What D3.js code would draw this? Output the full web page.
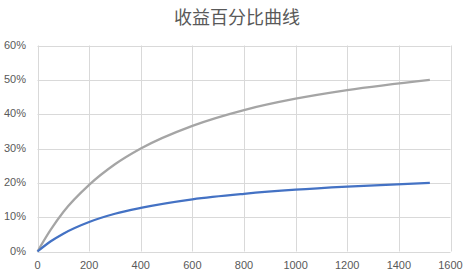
<!DOCTYPE html>
<html>
<head>
<meta charset="utf-8">
<script src="https://cdn.jsdelivr.net/npm/d3@7"></script>
<style>
  body { margin: 0; background: #fff; }
  svg { display: block; }
</style>
</head>
<body>
<svg width="471" height="277"></svg>
<script>
var svg = d3.select("svg"),
    width = +svg.attr("width"),
    height = +svg.attr("height");

// data
var xValues = [0, 50, 100, 200, 300, 400, 600, 800, 1000, 1200, 1520];
var grayValues = [0, .062, .115, .194, .254, .300, .366, .412, .445, .470, .500];
var blueValues = [0, .029, .052, .086, .110, .127, .152, .168, .180, .189, .200];
var xTicks = [0, 200, 400, 600, 800, 1000, 1200, 1400, 1600];
var yTicks = [0, .1, .2, .3, .4, .5, .6];

var margin = {left: 37.5, right: 20.5, top: 45.5, bottom: 25.5};

var x = d3.scaleLinear().domain([0, 1600]).range([margin.left, width - margin.right]);
var y = d3.scaleLinear().domain([0, 0.6]).range([height - margin.bottom, margin.top]);

// title
svg.append("text")
    .attr("x", 237)
    .attr("y", 24)
    .attr("text-anchor", "middle")
    .attr("font-family", "Noto Sans CJK SC")
    .attr("font-size", "18px")
    .attr("fill", "#595959")
    .text("收益百分比曲线");

// grid
svg.append("g").selectAll("line")
    .data(yTicks)
    .enter().append("line")
    .attr("x1", x(0)).attr("x2", x(1600))
    .attr("y1", function(d) { return Math.round(y(d)) + 0.5; })
    .attr("y2", function(d) { return Math.round(y(d)) + 0.5; })
    .attr("stroke", "#d9d9d9");

svg.append("g").selectAll("line")
    .data(xTicks)
    .enter().append("line")
    .attr("y1", y(0)).attr("y2", y(0.6))
    .attr("x1", function(d) { return Math.round(x(d)) + 0.5; })
    .attr("x2", function(d) { return Math.round(x(d)) + 0.5; })
    .attr("stroke", "#d9d9d9");

// tick labels
svg.append("g").selectAll("text")
    .data(yTicks)
    .enter().append("text")
    .attr("x", 26)
    .attr("y", function(d) { return y(d) + 3; })
    .attr("text-anchor", "end")
    .attr("font-family", "Liberation Sans, Arial, sans-serif")
    .attr("font-size", "11px")
    .attr("fill", "#595959")
    .text(d3.format(".0%"));

svg.append("g").selectAll("text")
    .data(xTicks)
    .enter().append("text")
    .attr("x", function(d) { return x(d); })
    .attr("y", 269)
    .attr("text-anchor", "middle")
    .attr("font-family", "Liberation Sans, Arial, sans-serif")
    .attr("font-size", "11px")
    .attr("fill", "#595959")
    .text(function(d) { return d; });

// curves
var line = d3.line()
    .x(function(d) { return x(d[0]); })
    .y(function(d) { return y(d[1]); })
    .curve(d3.curveMonotoneX);

svg.append("path")
    .datum(d3.zip(xValues, grayValues))
    .attr("d", line)
    .attr("fill", "none")
    .attr("stroke", "#a5a5a5")
    .attr("stroke-width", 2.25);

svg.append("path")
    .datum(d3.zip(xValues, blueValues))
    .attr("d", line)
    .attr("fill", "none")
    .attr("stroke", "#4472c4")
    .attr("stroke-width", 2.25);
</script>
</body>
</html>
